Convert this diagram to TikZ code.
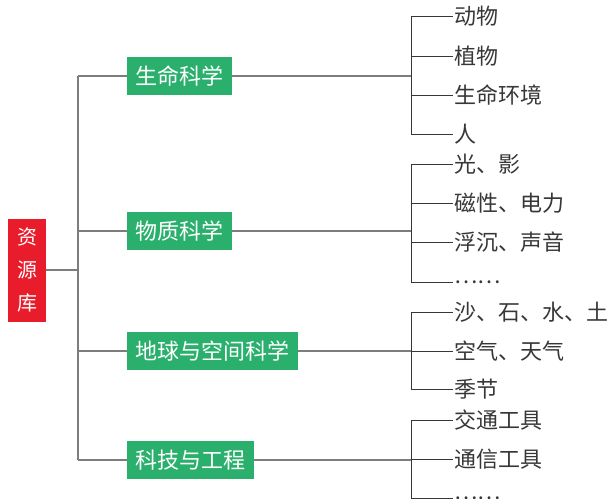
\documentclass[tikz,border=0pt]{standalone}
\usepackage{fontspec}
\setmainfont{Noto Sans CJK SC}
\usetikzlibrary{positioning}
\definecolor{rootred}{RGB}{232,28,42}
\definecolor{boxgreen}{RGB}{42,176,108}
\definecolor{stemgray}{RGB}{125,125,125}
\definecolor{leafgray}{RGB}{55,55,55}
\tikzset{
  rootbox/.style={fill=rootred,text=white,minimum width=38pt,minimum height=103pt,
    inner sep=0pt,align=center,font=\fontsize{20}{33}\selectfont},
  topic/.style={fill=boxgreen,text=white,anchor=west,minimum height=38pt,inner xsep=8.5pt,
    inner ysep=0pt,font=\fontsize{22}{24}\selectfont},
  leaf/.style={anchor=west,inner sep=1pt,text=leafgray,font=\fontsize{22}{24}\selectfont},
  stem/.style={draw=stemgray,line width=1.2pt},
  twig/.style={draw=leafgray,line width=0.9pt}
}
\begin{document}
\begin{tikzpicture}[x=1pt,y=-1pt]
\useasboundingbox (0,0) rectangle (612,498);
\clip (0,0) rectangle (612,498);
\coordinate (trunk) at (78,0);
\coordinate (fork) at (411,0);
% root and topics
\node[rootbox] (root) at (27,270) {资\\源\\库};
\node[topic] (life) at (127,76) {生命科学};
\node[topic] (matter) at (127,231) {物质科学};
\node[topic] (earth) at (127,351) {地球与空间科学};
\node[topic] (tech) at (127,460) {科技与工程};
% left side
\draw[stem] (root.east) -- (trunk |- root.east);
\draw[stem] (trunk |- life) -- (trunk |- tech);
\foreach \t in {life,matter,earth,tech}
  \draw[stem] (trunk |- \t) -- (\t.west);
\foreach \t in {life,matter,earth,tech}
  \draw[stem] (\t.east) -- (fork |- \t);
% leaves
\node[leaf] (l1) at (453,16) {动物};
\node[leaf] (l2) at (453,56) {植物};
\node[leaf] (l3) at (453,95) {生命环境};
\node[leaf] (l4) at (453,134) {人};
\node[leaf] (m1) at (453,164) {光、影};
\node[leaf] (m2) at (453,203) {磁性、电力};
\node[leaf] (m3) at (453,242) {浮沉、声音};
\node[leaf] (m4) at (453,282) {……};
\node[leaf] (e1) at (453,312) {沙、石、水、土};
\node[leaf] (e2) at (453,351) {空气、天气};
\node[leaf] (e3) at (453,389) {季节};
\node[leaf] (t1) at (453,420) {交通工具};
\node[leaf] (t2) at (453,459) {通信工具};
\node[leaf] (t3) at (453,498) {……};
% brackets
\draw[twig] (fork |- l1) -- (fork |- l4);
\draw[twig] (fork |- m1) -- (fork |- m4);
\draw[twig] (fork |- e1) -- (fork |- e3);
\draw[twig] (fork |- t1) -- (fork |- t3);
\foreach \l in {l1,l2,l3,l4,m1,m2,m3,m4,e1,e2,e3,t1,t2,t3}
  \draw[twig] (fork |- \l.west) -- (\l.west);
\end{tikzpicture}
\end{document}
